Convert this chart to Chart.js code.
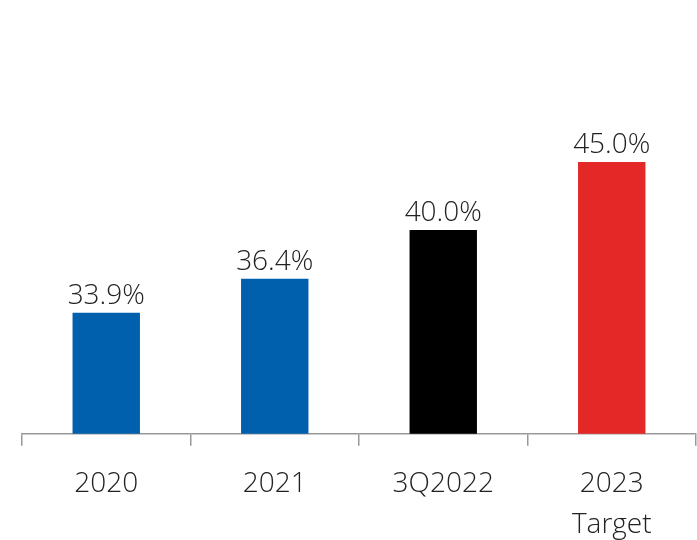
<!DOCTYPE html>
<html>
<head>
<meta charset="utf-8">
<script src="https://cdn.jsdelivr.net/npm/chart.js@4"></script>
<style>
  html, body { margin: 0; padding: 0; background: #fff; }
  #wrap { width: 697px; height: 540px; }
</style>
</head>
<body>
<div id="wrap"><canvas id="ratio"></canvas></div>
<script>
const periods = [['2020'], ['2021'], ['3Q2022'], ['2023', 'Target']];
const ratios = [33.9, 36.4, 40.0, 45.0];
const barColors = ['#0060ae', '#0060ae', '#000000', '#e32827'];

const fontFamily = '"Open Sans", Lato, sans-serif';

// value labels above the bars
const topLabels = {
  id: 'topLabels',
  afterDatasetsDraw(chart) {
    const ctx = chart.ctx;
    const meta = chart.getDatasetMeta(0);
    ctx.save();
    ctx.font = '300 28px ' + fontFamily;
    ctx.fillStyle = '#222';
    ctx.textAlign = 'center';
    ctx.textBaseline = 'alphabetic';
    meta.data.forEach((bar, i) => {
      ctx.fillText(ratios[i].toFixed(1) + '%', bar.x, bar.y - 9);
    });
    ctx.restore();
  }
};

new Chart(document.getElementById('ratio'), {
  type: 'bar',
  data: {
    labels: periods,
    datasets: [{
      data: ratios,
      backgroundColor: barColors,
      barPercentage: 0.8,
      categoryPercentage: 0.5
    }]
  },
  options: {
    responsive: true,
    maintainAspectRatio: false,
    animation: false,
    layout: { padding: { top: 94, left: 22, right: 1, bottom: -23 } },
    plugins: { legend: { display: false }, tooltip: { enabled: false } },
    scales: {
      y: { display: false, min: 25, max: 50 },
      x: {
        grid: { drawOnChartArea: false, tickLength: 12, color: '#999', lineWidth: 1.5 },
        border: { color: '#999', width: 1.5 },
        ticks: {
          color: '#222',
          padding: 18,
          font: { family: fontFamily, size: 28, weight: 300, lineHeight: 1.45 }
        }
      }
    }
  },
  plugins: [topLabels]
});
</script>
</body>
</html>
